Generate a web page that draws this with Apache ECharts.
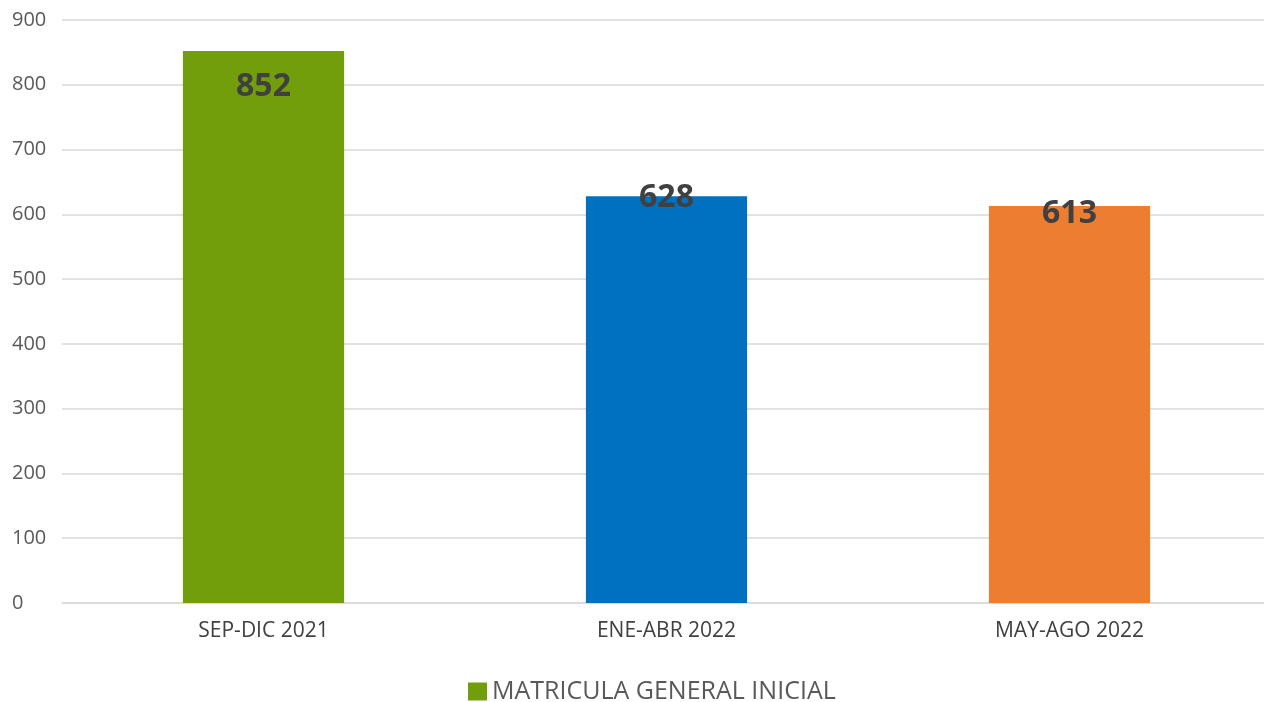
<!DOCTYPE html>
<html>
<head>
<meta charset="utf-8">
<script src="https://cdn.jsdelivr.net/npm/echarts@6/dist/echarts.min.js"></script>
<style>
  html, body { margin: 0; padding: 0; background: #fff; }
  #chart { width: 1264px; height: 702px; }
</style>
</head>
<body>
<div id="chart"></div>
<script>
// periodos y matricula
const categories = ['SEP-DIC 2021', 'ENE-ABR 2022', 'MAY-AGO 2022']
const values = [852, 628, 613]
const seriesName = 'MATRICULA GENERAL INICIAL'
const yTicks = [0, 100, 200, 300, 400, 500, 600, 700, 800, 900]

const barColors = ['#729E0B', '#0070C0', '#ED7D31']
// Excel puso las etiquetas a alturas distintas
const labelShift = [20, -14, -8]

const chart = echarts.init(document.getElementById('chart'))

chart.setOption({
  animation: false,
  textStyle: { fontFamily: 'Open Sans' },
  grid: {
    top: 20,
    bottom: 99,
    left: 62,
    width: 1209,
    outerBoundsMode: 'none'
  },
  legend: {
    data: [seriesName],
    bottom: -2,
    left: 468,
    padding: 0,
    itemWidth: 19,
    itemHeight: 18,
    icon: 'rect',
    textStyle: {
      fontSize: 25,
      color: '#595959'
    }
  },
  xAxis: {
    type: 'category',
    data: categories,
    axisTick: { show: false },
    axisLine: {
      lineStyle: { color: '#d9d9d9', width: 1.5 }
    },
    axisLabel: {
      fontSize: 21,
      color: '#404040',
      margin: 18
    }
  },
  yAxis: {
    type: 'value',
    min: yTicks[0],
    max: yTicks[yTicks.length - 1],
    interval: 100,
    axisLine: { show: false },
    axisTick: { show: false },
    axisLabel: {
      fontSize: 20,
      color: '#595959',
      align: 'left',
      margin: 50,
      padding: [4, 0, 0, 0]
    },
    splitLine: {
      lineStyle: { color: '#d9d9d9', width: 1.5 }
    }
  },
  series: [
    {
      name: seriesName,
      type: 'bar',
      barWidth: '40%',
      itemStyle: { color: barColors[0] },
      label: {
        show: true,
        position: 'insideTop',
        distance: 0,
        fontSize: 32,
        fontWeight: 'bold',
        color: '#404040'
      },
      data: values.map((v, i) => ({
        value: v,
        itemStyle: { color: barColors[i] },
        label: { offset: [0, labelShift[i]] }
      }))
    }
  ]
})
</script>
</body>
</html>
